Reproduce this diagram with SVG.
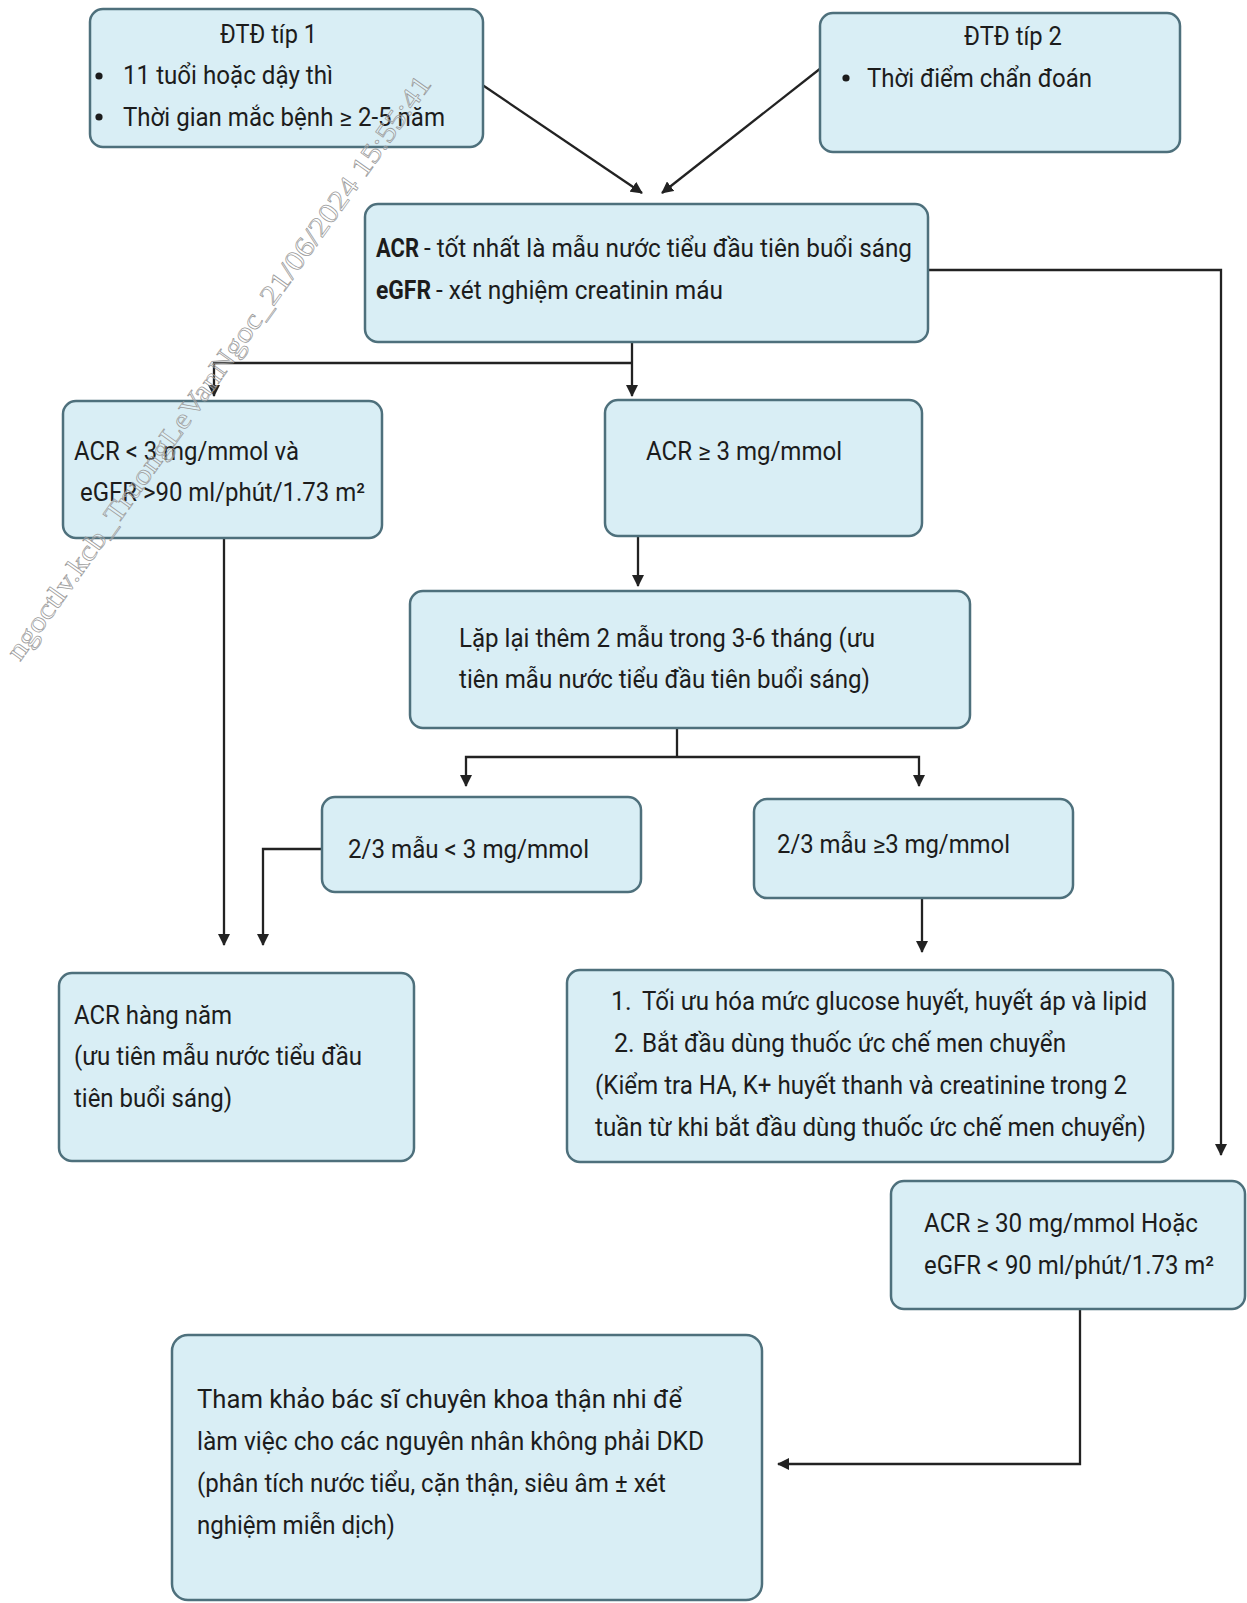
<svg xmlns="http://www.w3.org/2000/svg" width="1247" height="1603" viewBox="0 0 1247 1603">
<style>
.box{fill:#d9eef5;stroke:#4e707c;stroke-width:2.5}
.t{font-family:Roboto,"Liberation Sans",sans-serif;font-size:25px;fill:#1c1c1c}
.b{font-weight:bold}
.ln{fill:none;stroke:#222;stroke-width:2.3}
.dot{fill:#1c1c1c}
.wm{font-family:"Liberation Serif",serif;font-size:28px;fill:#ffffff;fill-opacity:0.2;stroke:#9a9a9a;stroke-width:0.7}
</style>
<defs>
<marker id="ah" markerWidth="12" markerHeight="12" refX="11" refY="6" orient="auto" markerUnits="userSpaceOnUse">
<path d="M0,0 L12,6 L0,12 z" fill="#222"/>
</marker>
</defs>
<rect width="1247" height="1603" fill="#ffffff"/>
<g id="connectors">
<line class="ln" x1="481" y1="84" x2="642" y2="193" marker-end="url(#ah)"/>
<line class="ln" x1="821" y1="68" x2="662" y2="193" marker-end="url(#ah)"/>
<polyline class="ln" points="928,270 1221,270 1221,1155" marker-end="url(#ah)"/>
<polyline class="ln" points="632,342 632,396" marker-end="url(#ah)"/>
<polyline class="ln" points="632,363 214,363 214,396" marker-end="url(#ah)"/>
<polyline class="ln" points="224,538 224,945" marker-end="url(#ah)"/>
<polyline class="ln" points="322,849 263,849 263,945" marker-end="url(#ah)"/>
<polyline class="ln" points="638,536 638,586" marker-end="url(#ah)"/>
<polyline class="ln" points="677,728 677,757"/>
<polyline class="ln" points="677,757 466,757 466,786" marker-end="url(#ah)"/>
<polyline class="ln" points="677,757 919,757 919,786" marker-end="url(#ah)"/>
<polyline class="ln" points="922,898 922,952" marker-end="url(#ah)"/>
<polyline class="ln" points="1080,1310 1080,1464 778,1464" marker-end="url(#ah)"/>
</g>
<g id="n1">
<rect class="box" x="90" y="9" width="393" height="138" rx="13"/>
<text class="t" x="220" y="43" textLength="97" lengthAdjust="spacingAndGlyphs">ĐTĐ típ 1</text>
<circle class="dot" cx="99" cy="76" r="3.6"/>
<text class="t" x="123" y="84" textLength="210" lengthAdjust="spacingAndGlyphs">11 tuổi hoặc dậy thì</text>
<circle class="dot" cx="99" cy="117" r="3.6"/>
<text class="t" x="123" y="126" textLength="322" lengthAdjust="spacingAndGlyphs">Thời gian mắc bệnh ≥ 2-5 năm</text>
</g>
<g id="n2">
<rect class="box" x="820" y="13" width="360" height="139" rx="13"/>
<text class="t" x="964" y="45" textLength="98" lengthAdjust="spacingAndGlyphs">ĐTĐ típ 2</text>
<circle class="dot" cx="846" cy="78" r="3.6"/>
<text class="t" x="867" y="87" textLength="225" lengthAdjust="spacingAndGlyphs">Thời điểm chẩn đoán</text>
</g>
<g id="n3">
<rect class="box" x="365" y="204" width="563" height="138" rx="13"/>
<text class="t b" x="376" y="257" textLength="43" lengthAdjust="spacingAndGlyphs">ACR</text>
<text class="t" x="424" y="257" textLength="488" lengthAdjust="spacingAndGlyphs">- tốt nhất là mẫu nước tiểu đầu tiên buổi sáng</text>
<text class="t b" x="376" y="299" textLength="55" lengthAdjust="spacingAndGlyphs">eGFR</text>
<text class="t" x="436" y="299" textLength="287" lengthAdjust="spacingAndGlyphs">- xét nghiệm creatinin máu</text>
</g>
<g id="n4">
<rect class="box" x="63" y="401" width="319" height="137" rx="13"/>
<text class="t" x="74" y="460" textLength="225" lengthAdjust="spacingAndGlyphs">ACR &lt; 3 mg/mmol và</text>
<text class="t" x="80" y="501" textLength="285" lengthAdjust="spacingAndGlyphs">eGFR &gt;90 ml/phút/1.73 m²</text>
</g>
<g id="n5">
<rect class="box" x="605" y="400" width="317" height="136" rx="13"/>
<text class="t" x="646" y="460" textLength="196" lengthAdjust="spacingAndGlyphs">ACR ≥ 3 mg/mmol</text>
</g>
<g id="n6">
<rect class="box" x="410" y="591" width="560" height="137" rx="13"/>
<text class="t" x="459" y="647" textLength="416" lengthAdjust="spacingAndGlyphs">Lặp lại thêm 2 mẫu trong 3-6 tháng (ưu</text>
<text class="t" x="459" y="688" textLength="411" lengthAdjust="spacingAndGlyphs">tiên mẫu nước tiểu đầu tiên buổi sáng)</text>
</g>
<g id="n7">
<rect class="box" x="322" y="797" width="319" height="95" rx="13"/>
<text class="t" x="348" y="858" textLength="241" lengthAdjust="spacingAndGlyphs">2/3 mẫu &lt; 3 mg/mmol</text>
</g>
<g id="n8">
<rect class="box" x="754" y="799" width="319" height="99" rx="13"/>
<text class="t" x="777" y="853" textLength="233" lengthAdjust="spacingAndGlyphs">2/3 mẫu ≥3 mg/mmol</text>
</g>
<g id="n9">
<rect class="box" x="59" y="973" width="355" height="188" rx="13"/>
<text class="t" x="74" y="1024" textLength="158" lengthAdjust="spacingAndGlyphs">ACR hàng năm</text>
<text class="t" x="74" y="1065" textLength="288" lengthAdjust="spacingAndGlyphs">(ưu tiên mẫu nước tiểu đầu</text>
<text class="t" x="74" y="1107" textLength="158" lengthAdjust="spacingAndGlyphs">tiên buổi sáng)</text>
</g>
<g id="n10">
<rect class="box" x="567" y="970" width="606" height="192" rx="13"/>
<text class="t" x="611" y="1010">1.</text>
<text class="t" x="642" y="1010" textLength="505" lengthAdjust="spacingAndGlyphs">Tối ưu hóa mức glucose huyết, huyết áp và lipid</text>
<text class="t" x="614" y="1052">2.</text>
<text class="t" x="642" y="1052" textLength="424" lengthAdjust="spacingAndGlyphs">Bắt đầu dùng thuốc ức chế men chuyển</text>
<text class="t" x="595" y="1094" textLength="532" lengthAdjust="spacingAndGlyphs">(Kiểm tra HA, K+ huyết thanh và creatinine trong 2</text>
<text class="t" x="595" y="1136" textLength="551" lengthAdjust="spacingAndGlyphs">tuần từ khi bắt đầu dùng thuốc ức chế men chuyển)</text>
</g>
<g id="n11">
<rect class="box" x="891" y="1181" width="354" height="128" rx="13"/>
<text class="t" x="924" y="1232" textLength="274" lengthAdjust="spacingAndGlyphs">ACR ≥ 30 mg/mmol Hoặc</text>
<text class="t" x="924" y="1274" textLength="290" lengthAdjust="spacingAndGlyphs">eGFR &lt; 90 ml/phút/1.73 m²</text>
</g>
<g id="n12">
<rect class="box" x="172" y="1335" width="590" height="265" rx="16"/>
<text class="t" x="197" y="1408" textLength="485" lengthAdjust="spacingAndGlyphs">Tham khảo bác sĩ chuyên khoa thận nhi để</text>
<text class="t" x="197" y="1450" textLength="507" lengthAdjust="spacingAndGlyphs">làm việc cho các nguyên nhân không phải DKD</text>
<text class="t" x="197" y="1492" textLength="469" lengthAdjust="spacingAndGlyphs">(phân tích nước tiểu, cặn thận, siêu âm ± xét</text>
<text class="t" x="197" y="1534" textLength="198" lengthAdjust="spacingAndGlyphs">nghiệm miễn dịch)</text>
</g>
<text class="wm" x="20" y="662" transform="rotate(-54.5 20 662)" textLength="710" lengthAdjust="spacingAndGlyphs">ngoctlv.kcb_TruongLeVanNgoc_21/06/2024 15:55:41</text>
</svg>
